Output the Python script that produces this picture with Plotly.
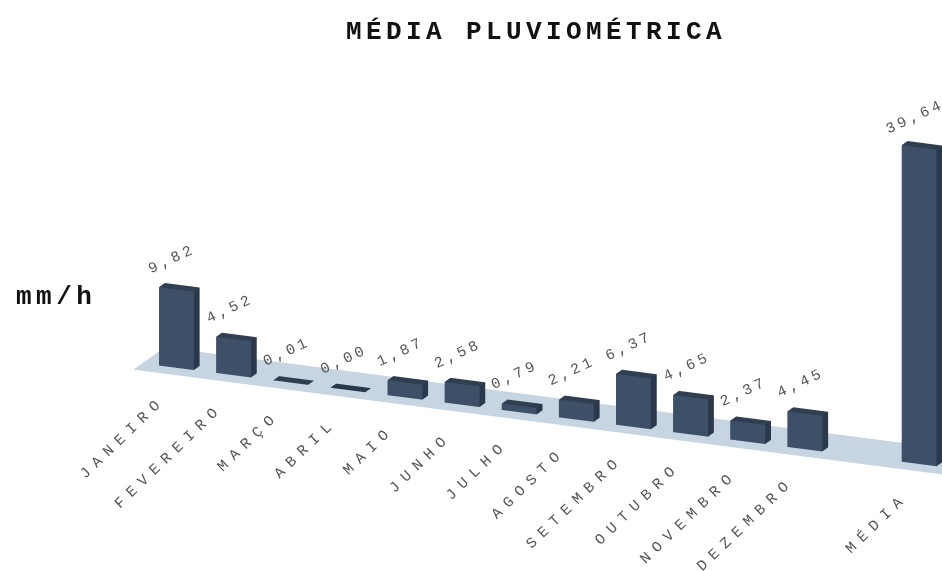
import plotly.graph_objects as go

# Monthly rainfall averages (mm/h) and overall average
categories = ["JANEIRO", "FEVEREIRO", "MARÇO", "ABRIL", "MAIO", "JUNHO", "JULHO",
              "AGOSTO", "SETEMBRO", "OUTUBRO", "NOVEMBRO", "DEZEMBRO", "MÉDIA"]
values = [9.82, 4.52, 0.01, 0.00, 1.87, 2.58, 0.79, 2.21, 6.37, 4.65, 2.37, 4.45, 39.64]
positions = [0, 1, 2, 3, 4, 5, 6, 7, 8, 9, 10, 11, 13]

BAR_W = 0.61
Y0, Y1 = 0.32, 0.56          # bar depth inside the floor strip
FLOOR_D = 1.3                # floor strip depth
FRONT = "#3e4f68"
SIDE = "#2b384b"
TOP = "#303e52"
FLOOR = "#c7d5e2"
FONT = "Courier New, Liberation Mono, monospace"
LIGHT = dict(ambient=1, diffuse=0, specular=0, roughness=1, fresnel=0)
ZOOM = 1.124


def box(x0, x1, y0, y1, z0, z1, base, xs, ys, zs, ii, jj, kk, fc):
    pts = [(x0, y0, z0), (x1, y0, z0), (x1, y1, z0), (x0, y1, z0),
           (x0, y0, z1), (x1, y0, z1), (x1, y1, z1), (x0, y1, z1)]
    for p in pts:
        xs.append(p[0]); ys.append(p[1]); zs.append(p[2])
    faces = [
        ((0, 1, 5), FRONT), ((0, 5, 4), FRONT),
        ((1, 2, 6), SIDE), ((1, 6, 5), SIDE),
        ((4, 5, 6), TOP), ((4, 6, 7), TOP),
        ((3, 0, 4), SIDE), ((3, 4, 7), SIDE),
        ((2, 3, 7), SIDE), ((2, 7, 6), SIDE),
        ((0, 1, 2), SIDE), ((0, 2, 3), SIDE),
    ]
    for (a, b, c), col in faces:
        ii.append(base + a); jj.append(base + b); kk.append(base + c); fc.append(col)


xs, ys, zs, ii, jj, kk, fc = [], [], [], [], [], [], []
for n, (p, v) in enumerate(zip(positions, values)):
    box(p - BAR_W / 2, p + BAR_W / 2, Y0, Y1, 0, v, 8 * n, xs, ys, zs, ii, jj, kk, fc)

bars = go.Mesh3d(x=xs, y=ys, z=zs, i=ii, j=jj, k=kk, facecolor=fc, flatshading=True,
                 lighting=LIGHT, hoverinfo="skip", showscale=False)

# floor strip under the bars
fx0, fx1, fz = -0.62, 15.5, -0.12
floor = go.Mesh3d(x=[fx0, fx1, fx1, fx0], y=[0, 0, FLOOR_D, FLOOR_D], z=[fz] * 4,
                  i=[0, 0], j=[1, 2], k=[2, 3], color=FLOOR, flatshading=True,
                  lighting=LIGHT, hoverinfo="skip", showscale=False)

fig = go.Figure([floor, bars])


def spaced(t, px):
    return f'<span style="letter-spacing:{px}px">{t}</span>'


annotations = []
for c, p in zip(categories, positions):
    annotations.append(dict(x=p, y=Y0, z=0, text=spaced(c, 7), showarrow=False,
                            textangle=-44, xanchor="right", yanchor="top",
                            xshift=-4, yshift=-22,
                            font=dict(family=FONT, size=15, color="#555555")))
for v, p in zip(values, positions):
    annotations.append(dict(x=p, y=Y0, z=v, text=spaced(f"{v:.2f}".replace(".", ","), 3.5),
                            showarrow=False, textangle=-25, xanchor="center",
                            yanchor="middle", xshift=-4, yshift=30,
                            font=dict(family=FONT, size=15, color="#555555")))

hidden = dict(visible=False, showbackground=False, showgrid=False, zeroline=False,
              showspikes=False)
cx, cy, cz = -0.274 * ZOOM + 0.002, -0.145 * ZOOM - 0.004, -0.083 * ZOOM - 0.015
fig.update_layout(
    width=942, height=571,
    margin=dict(l=0, r=0, t=0, b=0),
    paper_bgcolor="white",
    showlegend=False,
    hovermode=False,
    scene=dict(
        domain=dict(x=[0, 1], y=[0, 1]),
        xaxis=dict(range=[-1, 14.5], **hidden),
        yaxis=dict(range=[0, FLOOR_D], **hidden),
        zaxis=dict(range=[-0.2, 40], **hidden),
        aspectmode="manual",
        aspectratio=dict(x=3.0 * ZOOM, y=0.25 * ZOOM, z=1.05 * ZOOM),
        camera=dict(eye=dict(x=cx + 0.804 * ZOOM, y=cy - 1.885 * ZOOM, z=cz + 0.653 * ZOOM),
                    center=dict(x=cx, y=cy, z=cz),
                    up=dict(x=0, y=0, z=1), projection=dict(type="orthographic")),
        annotations=annotations,
    ),
    annotations=[
        dict(text="<b>" + spaced("MÉDIA PLUVIOMÉTRICA", 4.4) + "</b>", x=0.569, y=0.944,
             xref="paper", yref="paper", showarrow=False, xanchor="center", yanchor="middle",
             font=dict(family=FONT, size=26, color="#111111")),
        dict(text="<b>" + spaced("mm/h", 4.5) + "</b>", x=0.015, y=1 - 297 / 571,
             xref="paper", yref="paper", showarrow=False, xanchor="left", yanchor="middle",
             font=dict(family=FONT, size=26, color="#111111")),
    ],
)

fig.write_html("out.html")
